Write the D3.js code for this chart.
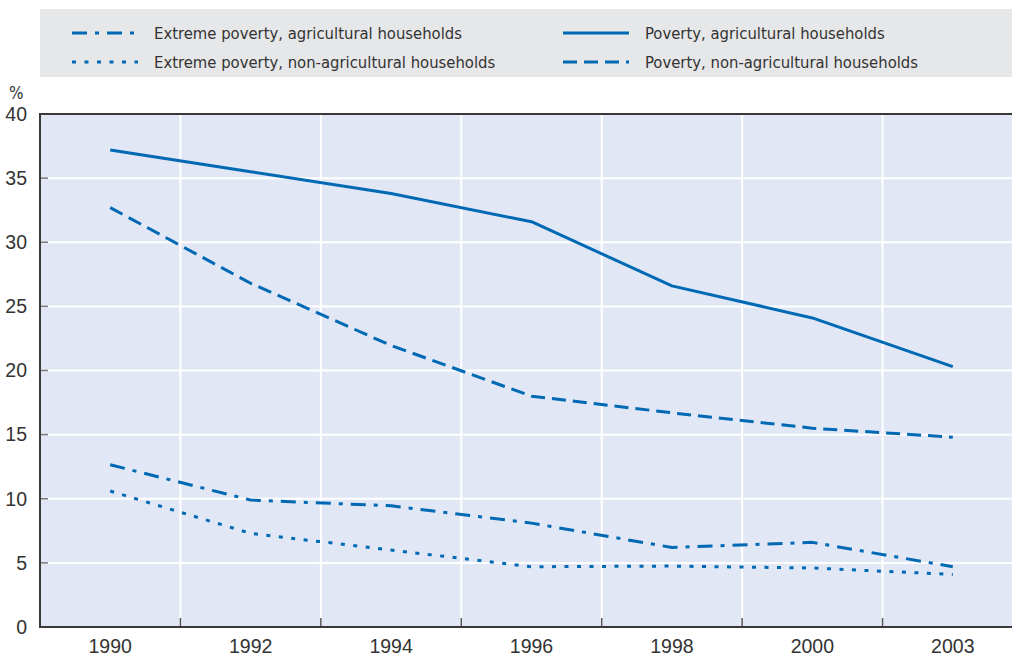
<!DOCTYPE html>
<html>
<head>
<meta charset="utf-8">
<script src="https://cdn.jsdelivr.net/npm/d3@7/dist/d3.min.js"></script>
<style>
  html, body { margin: 0; padding: 0; background: #fff; }
  svg { display: block; font-family: "Liberation Sans Narrow", "DejaVu Sans Condensed", "Liberation Sans", sans-serif; }
</style>
</head>
<body>
<svg id="chart" width="1012" height="659"></svg>
<script>
// Survey years
const years = ["1990", "1992", "1994", "1996", "1998", "2000", "2003"];

// Share of households below the line, %
const extremeAgri    = [12.65, 9.9, 9.45, 8.1, 6.2, 6.6, 4.7];
const extremeNonAgri = [10.6, 7.3, 6.0, 4.7, 4.75, 4.6, 4.1];
const povertyAgri    = [37.2, 35.5, 33.8, 31.6, 26.6, 24.1, 20.3];
const povertyNonAgri = [32.7, 26.8, 21.95, 18.0, 16.7, 15.5, 14.8];

const yTicks = [0, 5, 10, 15, 20, 25, 30, 35, 40];

const seriesNames = [
  "Extreme poverty, agricultural households",
  "Extreme poverty, non-agricultural households",
  "Poverty, agricultural households",
  "Poverty, non-agricultural households"
];

const blue = "#0069b4";
const dashes = ["15,8,4,8", "4,8.5", null, "14,7"];
const seriesValues = [extremeAgri, extremeNonAgri, povertyAgri, povertyNonAgri];

const svg = d3.select("#chart");
const W = 1012, H = 659;
const plot = { left: 40, top: 114, right: 1023, bottom: 627 };

const x = d3.scaleBand().domain(years).range([plot.left, plot.right]).paddingInner(0).paddingOuter(0);
const y = d3.scaleLinear().domain([0, 40]).range([plot.bottom, plot.top]);

// Legend panel
const legend = svg.append("g");
legend.append("rect").attr("x", 40).attr("y", 9).attr("width", 972).attr("height", 68).attr("fill", "#e6e7e8");
const legendPos = [
  { x: 70, y: 33 }, { x: 70, y: 62 }, { x: 561, y: 33 }, { x: 561, y: 62 }
];
seriesNames.forEach((name, i) => {
  const p = legendPos[i];
  legend.append("line")
    .attr("x1", p.x + 2).attr("x2", p.x + 68).attr("y1", p.y).attr("y2", p.y)
    .attr("stroke", blue).attr("stroke-width", 3)
    .attr("stroke-dasharray", dashes[i]);
  legend.append("text")
    .attr("x", p.x + 84).attr("y", p.y + 6)
    .attr("font-size", 16.5).attr("fill", "#333")
    .text(name);
});

// Plot background
svg.append("rect")
  .attr("x", plot.left).attr("y", plot.top)
  .attr("width", plot.right - plot.left).attr("height", plot.bottom - plot.top)
  .attr("fill", "#e1e7f5");

// Horizontal grid
svg.append("g").selectAll("line").data(yTicks.filter(d => d > 0 && d < 40)).join("line")
  .attr("x1", plot.left).attr("x2", plot.right)
  .attr("y1", d => y(d)).attr("y2", d => y(d))
  .attr("stroke", "#fff").attr("stroke-width", 2);

// Vertical grid at category boundaries
const bounds = years.slice(1).map(d => x(d));
svg.append("g").selectAll("line").data(bounds).join("line")
  .attr("x1", d => d).attr("x2", d => d)
  .attr("y1", plot.top).attr("y2", plot.bottom)
  .attr("stroke", "#fff").attr("stroke-width", 2);

// Y axis ticks and labels
const yAxis = d3.axisLeft(y).tickValues(yTicks).tickSize(0).tickPadding(13);
const ya = svg.append("g").attr("transform", `translate(${plot.left},0)`).call(yAxis);
ya.select(".domain").remove();
ya.selectAll("text").attr("font-size", 19.5).attr("fill", "#333").attr("font-family", null);
svg.append("g").selectAll("line").data(yTicks.filter(d => d > 0 && d < 40)).join("line")
  .attr("x1", plot.left).attr("x2", plot.left + 8)
  .attr("y1", d => y(d)).attr("y2", d => y(d))
  .attr("stroke", "#777").attr("stroke-width", 1.5);

// X axis labels
const xAxis = d3.axisBottom(x).tickSize(0).tickPadding(12);
const xa = svg.append("g").attr("transform", `translate(0,${plot.bottom})`).call(xAxis);
xa.select(".domain").remove();
xa.selectAll("text").attr("font-size", 19.5).attr("fill", "#333").attr("font-family", null);
svg.append("g").selectAll("line").data(bounds).join("line")
  .attr("x1", d => d).attr("x2", d => d)
  .attr("y1", plot.bottom).attr("y2", plot.bottom - 9)
  .attr("stroke", "#555").attr("stroke-width", 1.5);

// Frame lines
svg.append("line").attr("x1", plot.left).attr("x2", W).attr("y1", plot.top).attr("y2", plot.top)
  .attr("stroke", "#3a3a3a").attr("stroke-width", 2);
svg.append("line").attr("x1", plot.left).attr("x2", W).attr("y1", plot.bottom).attr("y2", plot.bottom)
  .attr("stroke", "#3a3a3a").attr("stroke-width", 2);
svg.append("line").attr("x1", plot.left).attr("x2", plot.left).attr("y1", plot.top - 1).attr("y2", plot.bottom + 1)
  .attr("stroke", "#3a3a3a").attr("stroke-width", 2);

// Unit label
svg.append("text").attr("x", 9).attr("y", 99).attr("font-size", 17).attr("fill", "#333").text("%");

// Series lines
const line = d3.line()
  .x((d, i) => x(years[i]) + x.bandwidth() / 2)
  .y(d => y(d));
seriesValues.forEach((vals, i) => {
  svg.append("path")
    .attr("d", line(vals))
    .attr("fill", "none")
    .attr("stroke", blue)
    .attr("stroke-width", 3)
    .attr("stroke-linejoin", "round")
    .attr("stroke-dasharray", dashes[i]);
});
</script>
</body>
</html>
